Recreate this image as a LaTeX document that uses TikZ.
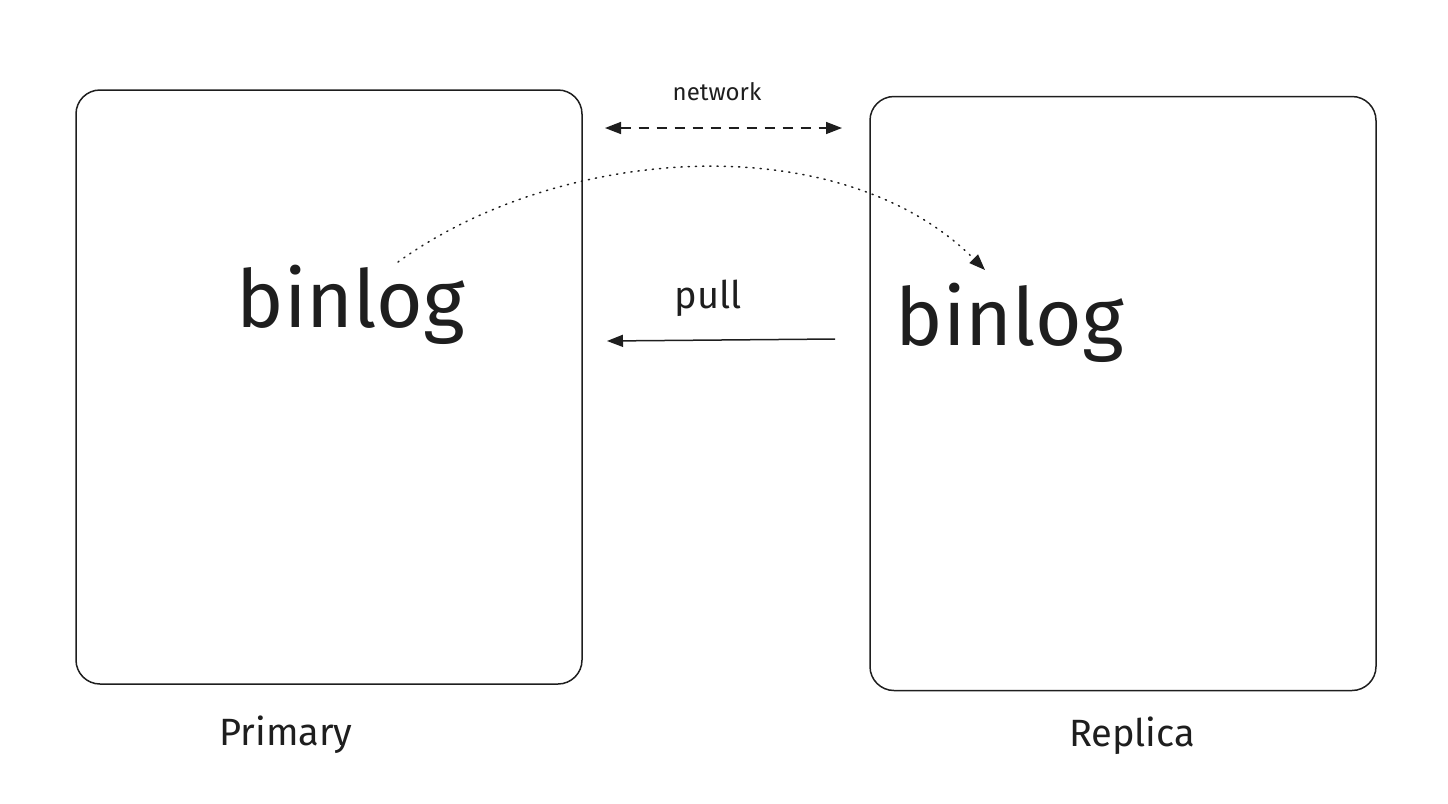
\documentclass[tikz,border=0pt]{standalone}
\usepackage{fontspec}
\setmainfont{Fira Sans}
\usetikzlibrary{arrows.meta}
\definecolor{ink}{HTML}{1E1E1E}
\begin{document}
\begin{tikzpicture}[x=0.5pt,y=-0.5pt,
        box/.style={draw=ink, line width=0.75pt, rounded corners=12pt,
                    minimum width=253pt, minimum height=297pt},
        big/.style={text=ink, font=\fontsize{40}{44}\selectfont},
        label/.style={text=ink, font=\fontsize{19}{22}\selectfont},
        small/.style={text=ink, font=\fontsize{12}{14}\selectfont},
        tip/.style={-{Triangle[length=8pt,width=6pt]}}]
    \useasboundingbox (0,0) rectangle (1448,804);
    % the two servers
    \node[box] (primary) at (329,387) {};
    \node[box] (replica) at (1123,393.5) {};
    \node[big] (binlogP) at (351,305) {binlog};
    \node[big] (binlogR) at (1010,323) {binlog};
    \node[label] (namP) at (286,735) {Primary};
    \node[label] (namR) at (1132,736) {Replica};
    % network link
    \coordinate (netL) at (605,128);
    \coordinate (netR) at (842,128);
    \draw[ink, line width=0.75pt, dash pattern=on 5pt off 4pt,
          {Triangle[length=8pt,width=6pt]}-{Triangle[length=8pt,width=6pt]}] (netL) -- (netR);
    \node[small] (net) at (717,92) {network};
    % replica pulls
    \coordinate (pullR) at (835,339);
    \coordinate (pullL) at (607,341);
    \draw[ink, line width=0.75pt, tip] (pullR) -- (pullL);
    \node[label] (pull) at (708,298) {pull};
    % binlog copied over
    \coordinate (cpyA) at (398,262);
    \coordinate (cpyB) at (985,270);
    \draw[ink, line width=0.75pt, dash pattern=on 0.6pt off 3pt, line cap=round, tip]
        (cpyA) .. controls (560,145) and (840,125) .. (cpyB);
\end{tikzpicture}
\end{document}
